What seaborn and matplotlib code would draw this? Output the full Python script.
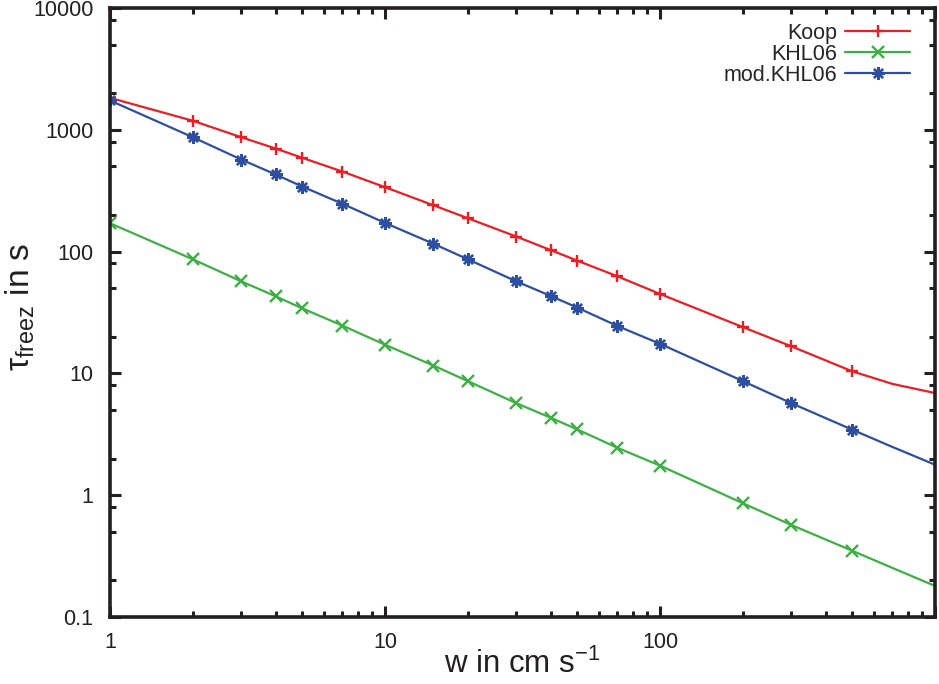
import seaborn as sns
import matplotlib
matplotlib.use('Agg')
import matplotlib.pyplot as plt
import matplotlib.ticker as mticker
import pandas as pd

# vertical velocity w in cm/s (last two points carry only the line, no marker)
w = [1, 2, 3, 4, 5, 7, 10, 15, 20, 30, 40, 50, 70, 100, 200, 300, 500, 700, 1000]

# freezing time scale tau_freez in s
koop = [1830, 1186, 869, 702, 589, 454, 338, 240, 188, 133, 103, 84.3, 62.7, 44.9,
        24.0, 16.7, 10.4, 8.2, 6.9]
khl06 = [171, 86.5, 57.0, 43.0, 34.2, 24.7, 17.2, 11.6, 8.65, 5.7, 4.33, 3.47, 2.45, 1.75,
         0.86, 0.57, 0.35, 0.253, 0.18]
mod_khl06 = [1741, 869, 570, 430, 342, 247, 172, 116, 86.5, 57.0, 43.3, 34.7, 24.5, 17.5,
             8.65, 5.7, 3.45, 2.49, 1.78]

n_marked = 17  # markers only at the first 17 points

series = [
    ('Koop', koop, '#ec1d25', '+'),
    ('KHL06', khl06, '#3cb043', 'x'),
    ('mod.KHL06', mod_khl06, '#2e4f9f', (8, 2, 0)),
]

sns.set_style('ticks')
plt.rcParams['font.family'] = ['Liberation Sans', 'DejaVu Sans']
plt.rcParams['mathtext.fontset'] = 'custom'
plt.rcParams['mathtext.rm'] = 'Liberation Sans'
plt.rcParams['mathtext.it'] = 'Liberation Sans:italic'

ink = '#231f20'

fig = plt.figure(figsize=(9.39, 6.84), dpi=100)
ax = fig.add_axes([110 / 939, 1 - 617 / 684, 825 / 939, 609 / 684])

for name, vals, col, mk in series:
    df = pd.DataFrame({'w': w, 'tau': vals})
    sns.lineplot(data=df, x='w', y='tau', ax=ax, color=col, marker=mk,
                 markevery=list(range(n_marked)), markersize=9, markeredgewidth=1.7,
                 markeredgecolor=col, linewidth=1.6, label=name)

ax.set_xscale('log')
ax.set_yscale('log')
ax.set_xlim(1, 1000)
ax.set_ylim(0.1, 10000)

ax.xaxis.set_major_locator(mticker.FixedLocator([1, 10, 100, 1000]))
ax.xaxis.set_major_formatter(mticker.FixedFormatter(['1', '10', '100', '']))
ax.xaxis.set_minor_locator(mticker.LogLocator(base=10, subs=range(2, 10)))
ax.xaxis.set_minor_formatter(mticker.NullFormatter())

ax.yaxis.set_major_locator(mticker.FixedLocator([0.1, 1, 10, 100, 1000, 10000]))
ax.yaxis.set_major_formatter(mticker.FixedFormatter(['0.1', '1', '10', '100', '1000', '10000']))
ax.yaxis.set_minor_locator(mticker.LogLocator(base=10, subs=[2, 5, 8]))
ax.yaxis.set_minor_formatter(mticker.NullFormatter())

ax.tick_params(which='both', direction='in', top=True, right=True, colors=ink,
               labelsize=15.5, labelcolor=ink)
ax.tick_params(which='major', length=8, width=2.2)
ax.tick_params(which='minor', length=4, width=2.2)
ax.tick_params(axis='x', which='major', pad=11)
ax.tick_params(axis='y', which='major', pad=12)
for sp in ax.spines.values():
    sp.set_linewidth(2.6)
    sp.set_color(ink)

ax.set_xlabel('w in cm s$^{-1}$', fontsize=22.5, color=ink, labelpad=-3)
ax.set_ylabel('τ$_{\\mathrm{freez}}$ in s', fontsize=24, color=ink)
ax.yaxis.set_label_coords(-0.088, 0.51)

handles, labels = ax.get_legend_handles_labels()
ax.legend(handles, labels, loc='upper right', frameon=False, markerfirst=False,
          fontsize=15.5, handlelength=3.0, handletextpad=0.4, labelspacing=0.0,
          borderpad=0, borderaxespad=0,
          bbox_to_anchor=(910 / 939, 1 - 23 / 684), bbox_transform=fig.transFigure)

fig.savefig('out.png', dpi=100)
